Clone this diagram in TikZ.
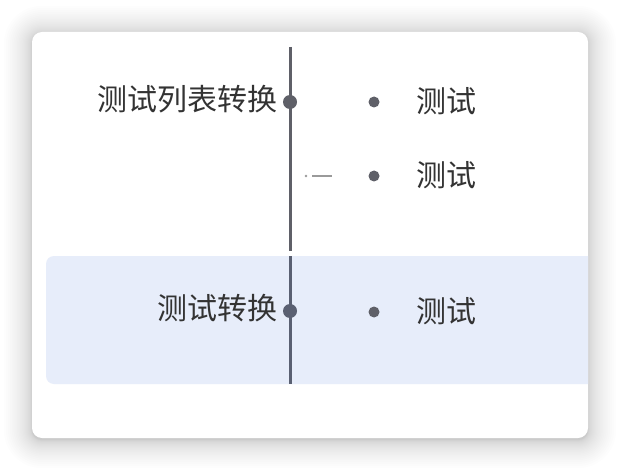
\documentclass[tikz,border=0pt]{standalone}
\usepackage{fontspec}
\newfontfamily\cjk{Noto Sans CJK SC}
\definecolor{linec}{HTML}{5F6068}
\definecolor{lineb}{HTML}{5A6072}
\definecolor{band}{HTML}{E7EDFA}
\definecolor{txt}{HTML}{333333}
\definecolor{markgray}{HTML}{9A9A9A}
\tikzset{
  lbl/.style={font=\cjk\fontsize{30}{34}\selectfont, text=txt, inner sep=0pt},
  bullet/.style={circle, fill=linec, inner sep=0pt, minimum size=11pt},
  joint/.style={circle, fill=linec, inner sep=0pt, minimum size=14pt},
}
\begin{document}
\begin{tikzpicture}[x=1pt,y=-1pt]
\useasboundingbox (0,0) rectangle (620,470);
\fill[white] (0,0) rectangle (620,470);
% shadow
\foreach \i in {1,...,26}{
  \pgfmathsetmacro\d{\i*\i/24}
  \fill[black, opacity=0.0065, rounded corners=10+\d] (32-\d,32-\d+2) rectangle (588+\d,438+\d+2);
}
\fill[white, rounded corners=10pt] (32,32) rectangle (588,438);
% band
\begin{scope}
\clip (40,250) rectangle (588,390);
\fill[band, rounded corners=8pt] (46,256) rectangle (610,384);
\end{scope}
% vertical lines
\coordinate (t1) at (290,47);
\coordinate (b1) at (290,251);
\coordinate (t2) at (290,256);
\coordinate (b2) at (290,384);
\draw[linec, line width=3pt] (t1) -- (b1);
\draw[lineb, line width=3pt] (t2) -- (b2);
\node[joint] (j1) at (290,102) {};
\node[joint, fill=lineb] (j2) at (290,311) {};
% labels
\node[lbl, anchor=east] (l1) at (278,99) {测试列表转换};
\node[lbl, anchor=east] (l2) at (278,308) {测试转换};
% bullets
\node[bullet] (d1) at (374,102) {};
\node[bullet] (d2) at (374,176) {};
\node[bullet] (d3) at (374,312) {};
\node[lbl, anchor=west] (c1) at (416,101) {测试};
\node[lbl, anchor=west] (c2) at (416,175) {测试};
\node[lbl, anchor=west] (c3) at (416,311) {测试};
% small marker
\coordinate (m1) at (312,176);
\coordinate (m2) at (332,176);
\fill[markgray] (306,176) circle (1.3pt);
\draw[markgray, line width=1.5pt] (m1) -- (m2);
\end{tikzpicture}
\end{document}
